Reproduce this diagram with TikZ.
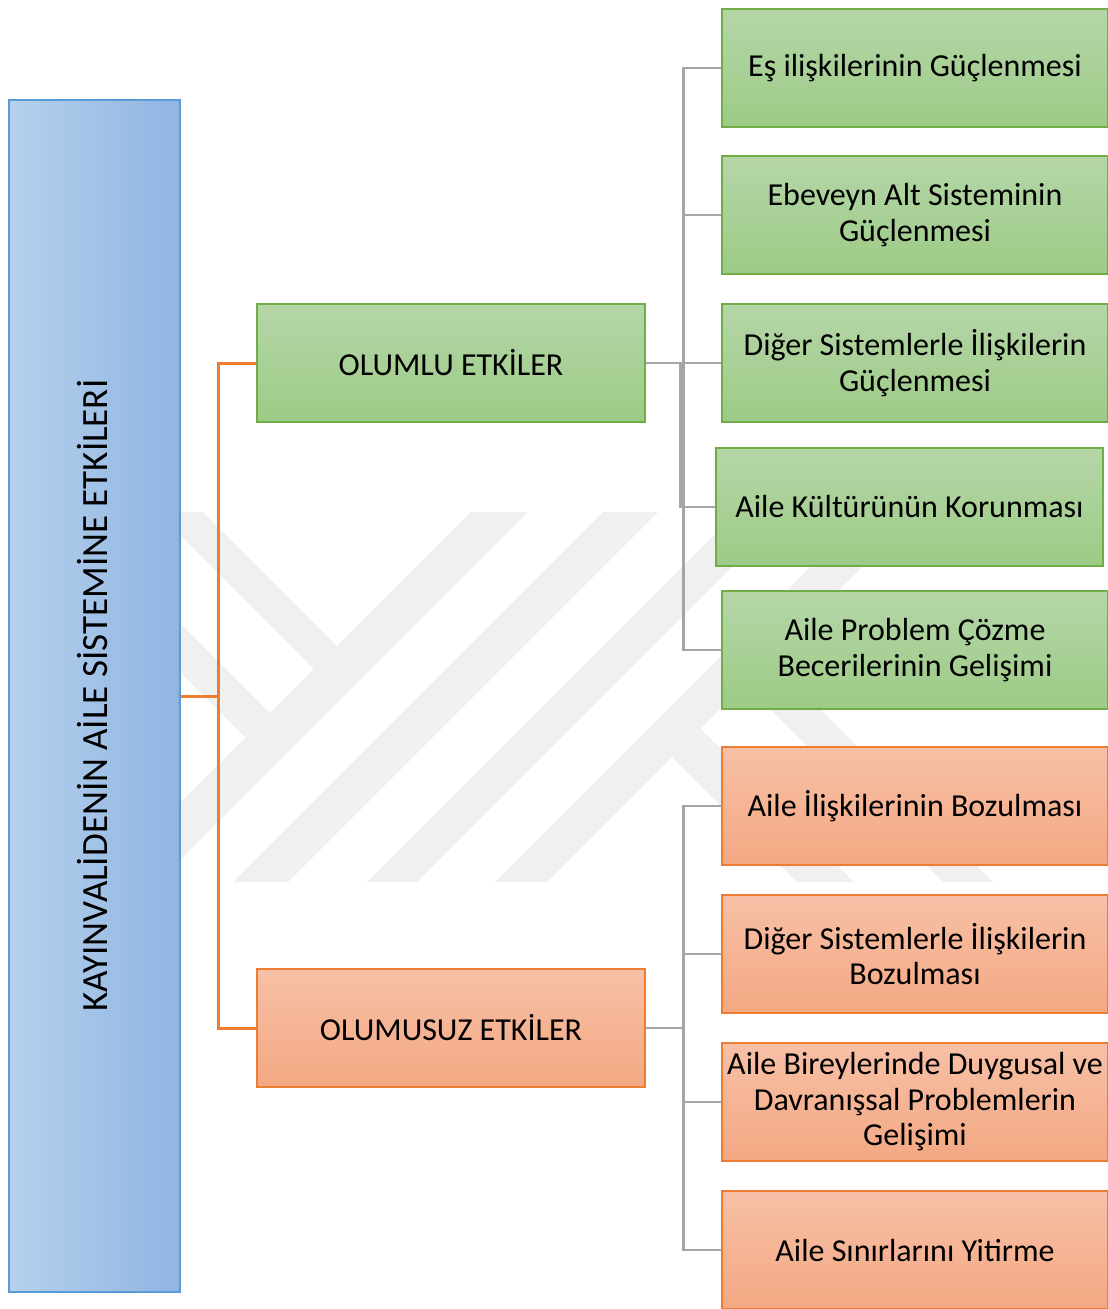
\documentclass[tikz,border=0pt]{standalone}
\usepackage{fontspec}
\setmainfont{Carlito}
\definecolor{gtop}{HTML}{B5D6A8}
\definecolor{gbot}{HTML}{9DCB86}
\definecolor{gborder}{HTML}{70AD47}
\definecolor{otop}{HTML}{F7C0A6}
\definecolor{obot}{HTML}{F4A883}
\definecolor{oborder}{HTML}{ED7D31}
\definecolor{bleft}{HTML}{B6D0EC}
\definecolor{bright}{HTML}{8FB5E2}
\definecolor{bborder}{HTML}{5B9BD5}
\definecolor{lineg}{HTML}{A5A5A5}
\definecolor{wm}{HTML}{F0F0F0}
\begin{document}
\begin{tikzpicture}[x=1pt,y=-1pt,
  boxtext/.style={align=center, inner sep=0pt, font=\fontsize{32}{35.5}\selectfont, text=black},
  greenbox/.style={boxtext, draw=gborder, line width=1.3pt, top color=gtop, bottom color=gbot, minimum width=386pt, minimum height=118pt},
  orangebox/.style={boxtext, draw=oborder, line width=1.3pt, top color=otop, bottom color=obot, minimum width=386pt, minimum height=118pt},
  oline/.style={draw=oborder, line width=3pt},
  gline/.style={draw=lineg, line width=2.6pt}]
\useasboundingbox (0,0) rectangle (1108,1309);
\fill[white] (0,0) rectangle (1108,1309);
% watermark
\fill[wm] (157,512) -- (203,512) -- (337,646) -- (314,669) -- cycle;
\fill[wm] (150,593) -- (270,713) -- (245.5,737.5) -- (150,642) -- cycle;
\fill[wm] (471,512) -- (528,512) -- (158,882) -- (101,882) -- cycle;
\fill[wm] (603,512) -- (658,512) -- (288,882) -- (233,882) -- cycle;
\fill[wm] (737,512) -- (787,512) -- (417,882) -- (367,882) -- cycle;
\fill[wm] (865,512) -- (917,512) -- (547,882) -- (495,882) -- cycle;
\fill[wm] (700.5,728.5) -- (672,757) -- (797,882) -- (854,882) -- cycle;
\fill[wm] (745,684) -- (770,659) -- (993,882) -- (943,882) -- cycle;
% main box
\node[draw=bborder, line width=1.3pt, left color=bleft, right color=bright, minimum width=171pt, minimum height=1192pt, inner sep=0pt] (blue) at (94.5,696) {};
\node[rotate=90, anchor=base, inner sep=0pt, font=\fontsize{37}{40}\selectfont] (bluetxt) at (107,695.5) {KAYINVALİDENİN AİLE SİSTEMİNE ETKİLERİ};
% level 2
\node[greenbox, minimum width=388pt] (olumlu) at (451,363) {\raisebox{2pt}{OLUMLU ETKİLER}};
\node[orangebox, minimum width=388pt] (olumsuz) at (451,1028) {\raisebox{2pt}{OLUMUSUZ ETKİLER}};
% level 3
\node[greenbox] (g1) at (915,68) {Eş ilişkilerinin Güçlenmesi};
\node[greenbox] (g2) at (915,215) {Ebeveyn Alt Sisteminin\\Güçlenmesi};
\node[greenbox] (g3) at (915,363) {Diğer Sistemlerle İlişkilerin\\Güçlenmesi};
\node[greenbox, minimum width=387pt] (g4) at (909.5,507) {Aile Kültürünün Korunması};
\node[greenbox] (g5) at (915,650) {Aile Problem Çözme\\Becerilerinin Gelişimi};
\node[orangebox] (o1) at (915,806) {Aile İlişkilerinin Bozulması};
\node[orangebox] (o2) at (915,954) {Diğer Sistemlerle İlişkilerin\\Bozulması};
\node[orangebox] (o3) at (915,1102) {Aile Bireylerinde Duygusal ve\\Davranışsal Problemlerin\\Gelişimi};
\node[orangebox] (o4) at (915,1250) {Aile Sınırlarını Yitirme};
% connectors
\coordinate (oj) at (218,696);
\draw[oline] (blue.east) -- (oj);
\draw[oline] (oj) |- (olumlu.west);
\draw[oline] (oj) |- (olumsuz.west);
\coordinate (gj) at (683.5,363);
\coordinate (gj4) at (680.5,363);
\draw[gline] (olumlu.east) -- (gj);
\foreach \n in {g1,g2,g3,g5} \draw[gline] (gj) |- (\n.west);
\draw[gline] (gj4) |- (g4.west);
\coordinate (hj) at (683.5,1028);
\draw[gline] (olumsuz.east) -- (hj);
\foreach \n in {o1,o2,o3,o4} \draw[gline] (hj) |- (\n.west);
\end{tikzpicture}
\end{document}
